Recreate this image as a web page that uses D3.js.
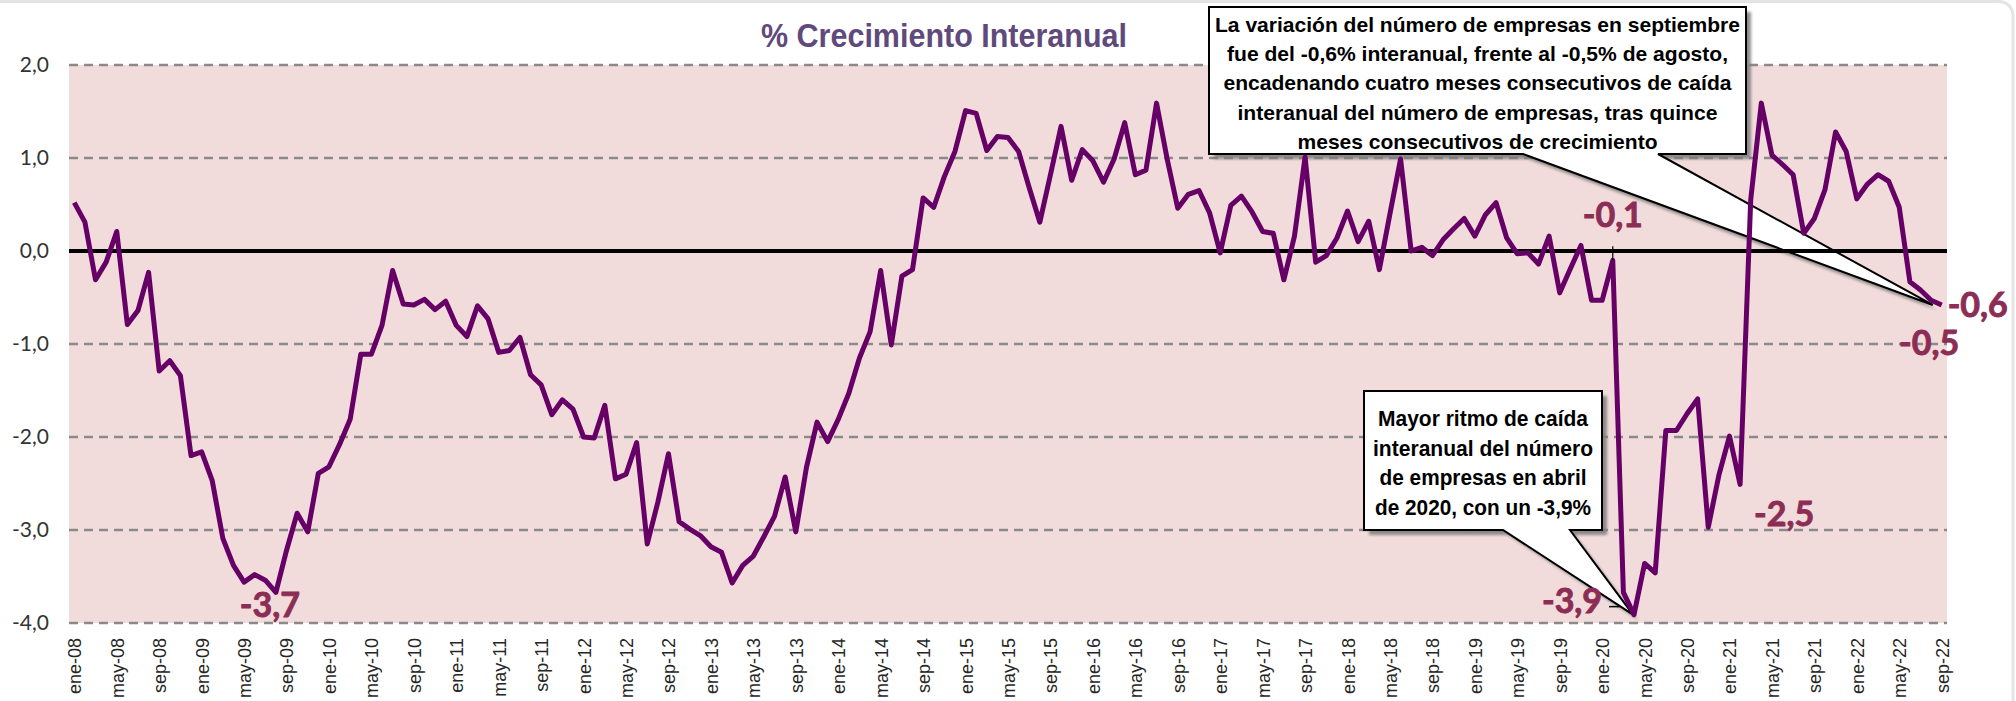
<!DOCTYPE html>
<html>
<head>
<meta charset="utf-8">
<script src="https://cdn.jsdelivr.net/npm/d3@7"></script>
<style>
  html, body { margin: 0; padding: 0; background: #fff; }
  svg { display: block; }
</style>
</head>
<body>
<svg id="chart"></svg>
<script>
// % crecimiento interanual del número de empresas (ene-08 .. sep-22)
const anios = [2008, 2009, 2010, 2011, 2012, 2013, 2014, 2015, 2016, 2017, 2018, 2019, 2020, 2021, 2022];
const meses = ["ene", "feb", "mar", "abr", "may", "jun", "jul", "ago", "sep", "oct", "nov", "dic"];

const crecimiento = [
   0.52,  0.31, -0.31, -0.12,  0.21, -0.79, -0.64, -0.23, -1.29, -1.18, -1.34, -2.20, // 2008
  -2.16, -2.47, -3.09, -3.38, -3.56, -3.48, -3.54, -3.67, -3.22, -2.82, -3.02, -2.39, // 2009
  -2.32, -2.08, -1.81, -1.11, -1.11, -0.80, -0.21, -0.57, -0.58, -0.52, -0.63, -0.54, // 2010
  -0.80, -0.92, -0.59, -0.73, -1.09, -1.07, -0.93, -1.33, -1.44, -1.76, -1.60, -1.70, // 2011
  -2.00, -2.01, -1.66, -2.45, -2.40, -2.06, -3.15, -2.70, -2.18, -2.91, -2.99, -3.06, // 2012
  -3.18, -3.24, -3.57, -3.38, -3.28, -3.07, -2.85, -2.43, -3.02, -2.33, -1.84, -2.05, // 2013
  -1.81, -1.53, -1.15, -0.87, -0.21, -1.01, -0.27, -0.20,  0.57,  0.47,  0.80,  1.07, // 2014
   1.51,  1.48,  1.08,  1.23,  1.22,  1.07,  0.68,  0.31,  0.82,  1.34,  0.76,  1.09, // 2015
   0.97,  0.74,  0.99,  1.38,  0.82,  0.87,  1.59,  0.99,  0.46,  0.61,  0.65,  0.41, // 2016
  -0.02,  0.49,  0.59,  0.42,  0.21,  0.19, -0.31,  0.16,  1.01, -0.12, -0.05,  0.14, // 2017
   0.43,  0.10,  0.32, -0.20,  0.40,  0.99,  0.00,  0.04, -0.05,  0.12,  0.24,  0.35, // 2018
   0.16,  0.39,  0.52,  0.14, -0.03, -0.02, -0.14,  0.16, -0.45, -0.19,  0.06, -0.53, // 2019
  -0.53, -0.10, -3.67, -3.91, -3.36, -3.46, -1.93, -1.93, -1.75, -1.59, -2.97, -2.41, // 2020
  -1.99, -2.51,  0.55,  1.59,  1.03,  0.93,  0.82,  0.19,  0.35,  0.66,  1.28,  1.07, // 2021
   0.56,  0.72,  0.82,  0.75,  0.47, -0.33, -0.42, -0.53, -0.58                        // 2022
];

const yTicks = [2, 1, 0, -1, -2, -3, -4];

// value labels on the line
const etiquetas = [
  { mes: "ago-09", texto: "-3,7", dx: -6,  dy: 25,  anchor: "middle" },
  { mes: "feb-20", texto: "-0,1", dx: 0,   dy: -33, anchor: "middle" },
  { mes: "abr-20", texto: "-3,9", dx: -62, dy: -2,  anchor: "middle" },
  { mes: "feb-21", texto: "-2,5", dx: 44,  dy: 42,  anchor: "middle" },
  { mes: "ago-22", texto: "-0,5", dx: -2,  dy: 55,  anchor: "middle" },
  { mes: "sep-22", texto: "-0,6", dx: 6,   dy: 12,  anchor: "start" }
];

const notaSep = [
  "La variación del número de empresas en septiembre",
  "fue del -0,6% interanual, frente al -0,5% de agosto,",
  "encadenando cuatro meses consecutivos de caída",
  "interanual del número de empresas, tras quince",
  "meses consecutivos de crecimiento"
];
const notaAbr = [
  "Mayor ritmo de caída",
  "interanual del número",
  "de empresas en abril",
  "de 2020, con un -3,9%"
];

const width = 2016, height = 701;
const margin = { top: 65, right: 69, bottom: 78, left: 69 };

const categorias = [];
anios.forEach(a => meses.forEach(m => {
  if (categorias.length < crecimiento.length) categorias.push(m + "-" + String(a).slice(2));
}));
const serie = categorias.map((c, i) => ({ mes: c, valor: crecimiento[i] }));

const svg = d3.select("#chart").attr("width", width).attr("height", height);

const x = d3.scalePoint()
  .domain(categorias)
  .range([margin.left, width - margin.right])
  .padding(0.5);

const y = d3.scaleLinear()
  .domain([-4, 2])
  .range([height - margin.bottom, margin.top]);

const es = d3.formatLocale({ decimal: ",", thousands: ".", grouping: [3], currency: ["", " €"], minus: "-" });
const fmt = es.format(".1f");

// faint frame of the screenshot
svg.append("rect")
  .attr("x", -20).attr("y", 1.5)
  .attr("width", width + 17).attr("height", height + 40)
  .attr("rx", 14)
  .attr("fill", "none").attr("stroke", "#e4e4e4").attr("stroke-width", 3);

const defs = svg.append("defs");
defs.append("filter").attr("id", "sombra")
  .append("feGaussianBlur").attr("stdDeviation", 1.6);

// plot area
svg.append("rect")
  .attr("x", margin.left).attr("y", y(2))
  .attr("width", width - margin.left - margin.right)
  .attr("height", y(-4) - y(2))
  .attr("fill", "#f2dcdb");

// dashed grid
svg.append("g")
  .selectAll("line")
  .data(yTicks.filter(d => d !== 0))
  .enter()
  .append("line")
  .attr("x1", margin.left).attr("x2", width - margin.right)
  .attr("y1", d => y(d)).attr("y2", d => y(d))
  .attr("stroke", "#8a8a8a")
  .attr("stroke-width", 2.5)
  .attr("stroke-dasharray", "9,6");

// y axis labels
const yAxis = svg.append("g")
  .attr("transform", `translate(${margin.left},0)`)
  .call(d3.axisLeft(y).tickValues(yTicks).tickFormat(fmt).tickSize(0).tickPadding(20));
yAxis.select(".domain").remove();
yAxis.selectAll("text")
  .attr("font-family", "Lato, 'Open Sans', sans-serif")
  .attr("font-size", 21)
  .attr("fill", "#333");

// x axis labels (every 4 months)
const xAxis = svg.append("g")
  .attr("transform", `translate(0,${y(-4)})`)
  .call(d3.axisBottom(x).tickValues(categorias.filter((d, i) => i % 4 === 0)).tickSize(0));
xAxis.select(".domain").remove();
xAxis.selectAll("text")
  .attr("transform", "rotate(-90)")
  .attr("text-anchor", "end")
  .attr("x", -15).attr("y", 0).attr("dy", "0.36em")
  .attr("font-family", "'Liberation Sans', Arial, sans-serif")
  .attr("font-size", 18)
  .attr("fill", "#262626");

// title
svg.append("text")
  .attr("x", 944).attr("y", 46.5)
  .attr("text-anchor", "middle")
  .attr("font-family", "'Liberation Sans Narrow', 'Arial Narrow', 'Liberation Sans', sans-serif")
  .attr("font-weight", "bold")
  .attr("font-size", 34)
  .attr("textLength", 366).attr("lengthAdjust", "spacingAndGlyphs")
  .attr("fill", "#604a7b")
  .text("% Crecimiento Interanual");

// callouts (box + pointer)
function callout(box, baseL, baseR, tip, lineas, baselines, largos, fontSize) {
  const p = d3.path();
  p.moveTo(box.x0, box.y0);
  p.lineTo(box.x1, box.y0);
  p.lineTo(box.x1, box.y1);
  p.lineTo(baseR, box.y1);
  p.lineTo(tip[0], tip[1]);
  p.lineTo(baseL, box.y1);
  p.lineTo(box.x0, box.y1);
  p.closePath();
  const g = svg.append("g");
  g.append("path").attr("d", p.toString())
    .attr("transform", "translate(5,5)")
    .attr("fill", "#7a7a7a").attr("opacity", 0.85)
    .attr("filter", "url(#sombra)");
  g.append("path").attr("d", p.toString())
    .attr("fill", "#fff").attr("stroke", "#000").attr("stroke-width", 2)
    .attr("stroke-linejoin", "miter");
  const cx = (box.x0 + box.x1) / 2;
  g.selectAll("text").data(lineas).enter().append("text")
    .attr("x", cx)
    .attr("y", (d, i) => baselines[i])
    .attr("text-anchor", "middle")
    .attr("font-family", "'Liberation Sans Narrow', 'Arial Narrow', 'Liberation Sans', sans-serif")
    .attr("font-weight", "bold")
    .attr("font-size", fontSize)
    .attr("textLength", (d, i) => largos[i])
    .attr("lengthAdjust", "spacingAndGlyphs")
    .attr("fill", "#000")
    .text(d => d);
}

callout({ x0: 1209, y0: 7, x1: 1746, y1: 154 }, 1523, 1658,
  [x("sep-22") - 9, y(crecimiento[crecimiento.length - 1])],
  notaSep, [31.5, 61, 90.4, 119.8, 149], [525, 501, 508, 480, 360], 21);

callout({ x0: 1364, y0: 391, x1: 1602, y1: 530 }, 1503, 1570,
  [x("abr-20") - 1, y(crecimiento[categorias.indexOf("abr-20")])],
  notaAbr, [426, 455.5, 485, 514.5], [210, 220, 207, 216], 22);

// zero line
svg.append("line")
  .attr("x1", margin.left).attr("x2", width - margin.right)
  .attr("y1", y(0)).attr("y2", y(0))
  .attr("stroke", "#000").attr("stroke-width", 4);

// series line
const linea = d3.line()
  .x(d => x(d.mes))
  .y(d => y(d.valor));

svg.append("path")
  .datum(serie)
  .attr("d", linea)
  .attr("fill", "none")
  .attr("stroke", "#660066")
  .attr("stroke-width", 5)
  .attr("stroke-linejoin", "round");

// leader lines for -0,1 and -3,9
const vFeb20 = crecimiento[categorias.indexOf("feb-20")];
svg.append("line")
  .attr("x1", x("feb-20")).attr("x2", x("feb-20"))
  .attr("y1", y(vFeb20) - 14).attr("y2", y(vFeb20))
  .attr("stroke", "#000").attr("stroke-width", 1.2);
svg.append("line")
  .attr("x1", x("abr-20") - 25).attr("x2", x("abr-20") - 14)
  .attr("y1", y(-3.91) - 8).attr("y2", y(-3.91) - 8)
  .attr("stroke", "#000").attr("stroke-width", 1.5);

// value labels
svg.append("g")
  .selectAll("text")
  .data(etiquetas)
  .enter()
  .append("text")
  .attr("x", d => x(d.mes) + d.dx)
  .attr("y", d => y(crecimiento[categorias.indexOf(d.mes)]) + d.dy)
  .attr("text-anchor", d => d.anchor)
  .attr("font-family", "Lato, 'Open Sans', sans-serif")
  .attr("font-weight", "bold")
  .attr("font-size", 34)
  .attr("fill", "#8c2d55")
  .attr("stroke", "#8c2d55")
  .attr("stroke-width", 0.9)
  .text(d => d.texto);
</script>
</body>
</html>
